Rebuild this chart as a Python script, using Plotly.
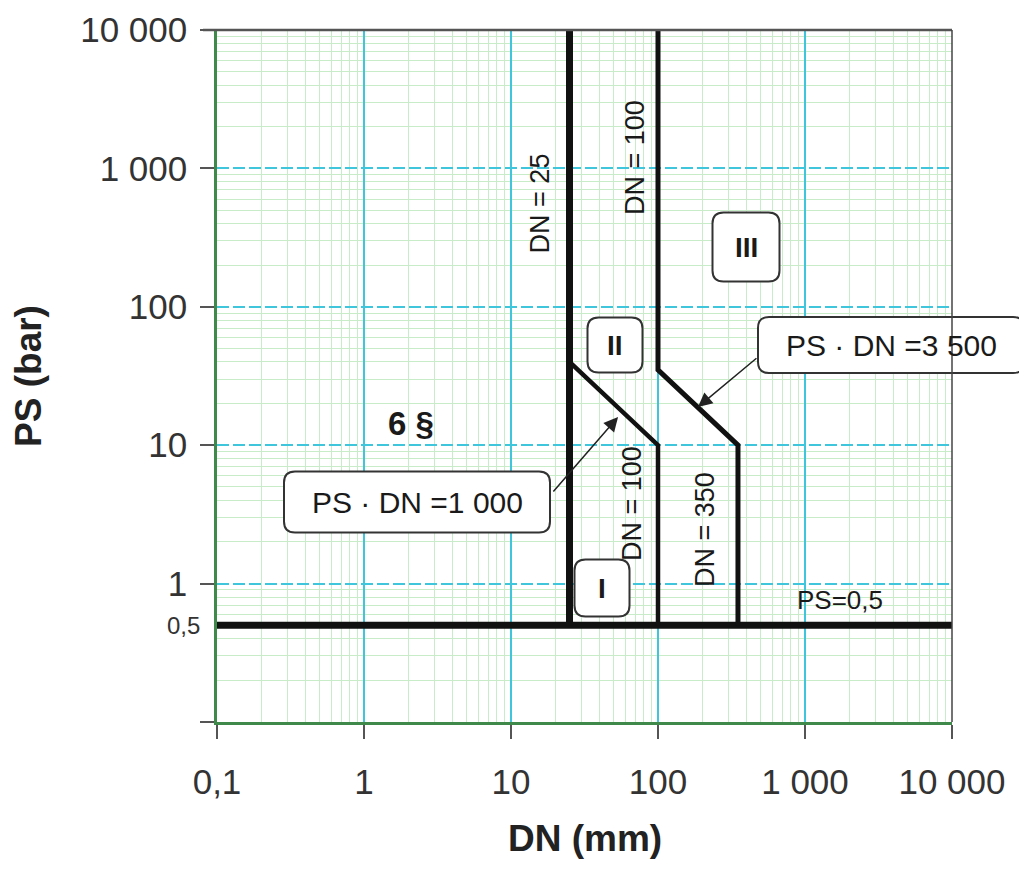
import numpy as np
import plotly.graph_objects as go

# ---- data ----
ps_limit_x = [0.1, 10000]
ps_limit_y = [0.5, 0.5]
dn25_x = [25, 25]
dn25_y = [0.5, 10000]
cat1_x = [25, 100, 100]
cat1_y = [40, 10, 0.5]
cat2_x = [100, 100, 350, 350]
cat2_y = [10000, 35, 10, 0.5]

x_tickvals = [0.1, 1, 10, 100, 1000, 10000]
x_ticktext = ["0,1", "1", "10", "100", "1 000", "10 000"]
y_tickvals = [0.1, 1, 10, 100, 1000, 10000]
y_ticktext = ["", "1", "10", "100", "1 000", "10 000"]

FONT = "Liberation Sans, Arial, Helvetica, sans-serif"
BLACK = "#111111"
MAJOR = "#3fc6dc"
MINOR = "#c8ecc8"
AXIS = "#3f8a4a"

minor_vals = [m * 10 ** e for e in range(-1, 4) for m in range(2, 10)]

fig = go.Figure()
fig.add_trace(go.Scatter(x=ps_limit_x, y=ps_limit_y, mode="lines",
                         line=dict(color=BLACK, width=7), cliponaxis=False,
                         showlegend=False, hoverinfo="skip"))
fig.add_trace(go.Scatter(x=dn25_x, y=dn25_y, mode="lines",
                         line=dict(color=BLACK, width=7), showlegend=False, hoverinfo="skip"))
fig.add_trace(go.Scatter(x=cat1_x, y=cat1_y, mode="lines",
                         line=dict(color=BLACK, width=4.5), showlegend=False, hoverinfo="skip"))
fig.add_trace(go.Scatter(x=cat2_x, y=cat2_y, mode="lines",
                         line=dict(color=BLACK, width=5), showlegend=False, hoverinfo="skip"))

# page body has an 8px margin; figure laid out so plot area lands at screen 217..952 x 30..722
OFF = 8
W, H = 1019, 855
L, T = 217 - OFF, 30 - OFF
R = W - (952 - OFF)
B = H - (722 - OFF)
PW, PH = W - L - R, H - T - B


def px2paper(px, py):
    # screen pixel -> paper fraction
    return (px - OFF - L) / PW, (H - B - (py - OFF)) / PH


def rrect_paper(cx, cy, w, h, r):
    # rounded rectangle path in paper coordinates, sizes given in pixels
    xc, yc = px2paper(cx, cy)
    hw, hh = w / 2 / PW, h / 2 / PH
    rx, ry = r / PW, r / PH
    x0, x1, y0, y1 = xc - hw, xc + hw, yc - hh, yc + hh
    return (f"M{x0 + rx},{y0} L{x1 - rx},{y0} Q{x1},{y0} {x1},{y0 + ry} "
            f"L{x1},{y1 - ry} Q{x1},{y1} {x1 - rx},{y1} L{x0 + rx},{y1} "
            f"Q{x0},{y1} {x0},{y1 - ry} L{x0},{y0 + ry} Q{x0},{y0} {x0 + rx},{y0} Z")


boxes = [
    ("<b>I</b>", 602, 588, 55, 57, 28),
    ("<b>II</b>", 615, 345, 55, 55, 28),
    ("<b>III</b>", 746, 247, 67, 69, 28),
    ("PS · DN =1 000", 417, 502, 266, 61, 30),
    ("PS · DN =3 500", 891, 345, 266, 56, 30),
]

shapes = []
annotations = []
for txt, cx, cy, bw, bh, fs in boxes:
    xp, yp = px2paper(cx, cy)
    shapes.append(dict(type="path", xref="paper", yref="paper",
                       path=rrect_paper(cx, cy, bw, bh, 11),
                       line=dict(color="#333333", width=2), fillcolor="white",
                       layer="above"))
    annotations.append(dict(text=txt, xref="paper", yref="paper", x=xp, y=yp,
                            xanchor="center", yanchor="middle",
                            showarrow=False, font=dict(family=FONT, size=fs, color="#1a1a1a")))

# top and right frame
shapes.append(dict(type="line", xref="paper", yref="paper", x0=-0.019, x1=1, y0=1, y1=1,
                   line=dict(color="#555555", width=2.5), layer="above"))
shapes.append(dict(type="line", xref="paper", yref="paper", x0=1, x1=1, y0=0, y1=1,
                   line=dict(color="#444444", width=1.5), layer="above"))

# arrows
annotations.append(dict(x=np.log10(53.5), y=1.204, xref="x", yref="y", text="",
                        showarrow=True, ax=-66, ay=76, arrowhead=2, arrowsize=1.9,
                        arrowwidth=1.5, arrowcolor="#222222"))
annotations.append(dict(x=np.log10(187), y=1.276, xref="x", yref="y", text="",
                        showarrow=True, ax=60, ay=-50, arrowhead=2, arrowsize=1.9,
                        arrowwidth=1.5, arrowcolor="#222222"))

# rotated line labels
for txt, lx, ly in [("DN = 25", 1.2, 2.75), ("DN = 100", 1.844, 3.075),
                    ("DN = 100", 1.823, 0.582), ("DN = 350", 2.32, 0.387)]:
    annotations.append(dict(text=txt, x=lx, y=ly, xref="x", yref="y", textangle=-90,
                            showarrow=False, font=dict(family=FONT, size=27, color="#1a1a1a")))

annotations.append(dict(text="PS=0,5", x=3.238, y=-0.118, xref="x", yref="y",
                        showarrow=False, font=dict(family=FONT, size=26, color="#1a1a1a")))
annotations.append(dict(text="<b>6 §</b>", x=0.32, y=1.16, xref="x", yref="y",
                        showarrow=False, font=dict(family=FONT, size=33, color="#1a1a1a")))
annotations.append(dict(text="0,5", x=-0.02, y=np.log10(0.5), xref="paper", yref="y",
                        xanchor="right", showarrow=False,
                        font=dict(family=FONT, size=24, color="#333333")))

# x-axis title placed as text below the tick labels
_, title_y = px2paper(0, 838)
annotations.append(dict(text="<b>DN (mm)</b>", x=0.5, y=title_y, xref="paper", yref="paper",
                        xanchor="center", yanchor="middle", showarrow=False,
                        font=dict(family=FONT, size=37, color="#222222")))

fig.update_layout(
    width=W, height=H,
    margin=dict(l=L, r=R, t=T, b=B, autoexpand=False),
    paper_bgcolor="white", plot_bgcolor="white",
    font=dict(family=FONT, color="#222222"),
    shapes=shapes, annotations=annotations,
    showlegend=False,
)

fig.update_xaxes(
    type="log", range=[-1, 4], tickmode="array", tickvals=x_tickvals, ticktext=x_ticktext,
    tickfont=dict(family=FONT, size=35, color="#333333"),
    ticks="outside", ticklen=14, tickwidth=2, tickcolor="#555555",
    ticklabelstandoff=13, automargin=False,
    showline=True, linecolor=AXIS, linewidth=2.5,
    showgrid=True, gridcolor=MAJOR, gridwidth=1.5, griddash="solid",
    minor=dict(tickmode="array", tickvals=minor_vals, showgrid=True, gridcolor=MINOR,
               gridwidth=1, griddash="solid", ticks=""),
    zeroline=False,
)
fig.update_yaxes(
    type="log", range=[-1, 4], tickmode="array", tickvals=y_tickvals, ticktext=y_ticktext,
    tickfont=dict(family=FONT, size=35, color="#333333"),
    ticks="outside", ticklen=14, tickwidth=2, tickcolor="#555555",
    ticklabelstandoff=6, automargin=False,
    showline=True, linecolor=AXIS, linewidth=2.5,
    showgrid=True, gridcolor=MAJOR, gridwidth=1.5, griddash="12px,4px",
    minor=dict(tickmode="array", tickvals=minor_vals, showgrid=True, gridcolor=MINOR,
               gridwidth=1, griddash="solid", ticks=""),
    zeroline=False,
    title=dict(text="<b>PS (bar)</b>", font=dict(family=FONT, size=37, color="#222222"), standoff=35),
)

fig.write_html("out.html")
